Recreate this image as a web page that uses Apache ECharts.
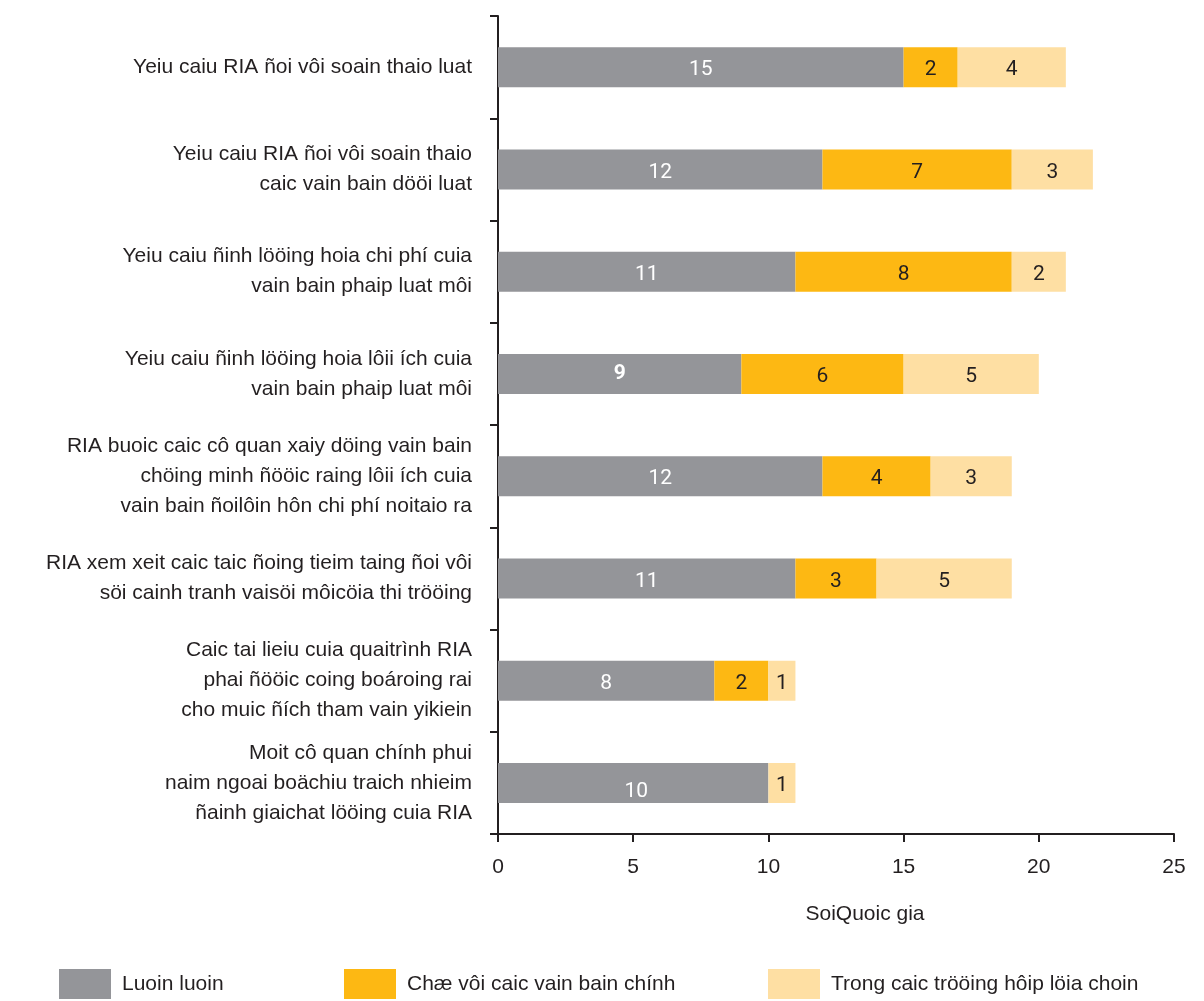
<!DOCTYPE html>
<html>
<head>
<meta charset="utf-8">
<script src="https://cdn.jsdelivr.net/npm/echarts@6/dist/echarts.min.js"></script>
<style>
html,body{margin:0;padding:0;background:#fff;}
#chart{width:1204px;height:1001px;}
</style>
</head>
<body>
<div id="chart"></div>
<script>
const categories = [
  "Yeiu caiu RIA ñoi vôi soain thaio luat",
  "Yeiu caiu RIA ñoi vôi soain thaio\ncaic vain bain dööi luat",
  "Yeiu caiu ñinh lööing hoia chi phí cuia\nvain bain phaip luat môi",
  "Yeiu caiu ñinh lööing hoia lôii ích cuia\nvain bain phaip luat môi",
  "RIA buoic caic cô quan xaiy döing vain bain\nchöing minh ñööic raing lôii ích cuia\nvain bain ñoilôin hôn chi phí noitaio ra",
  "RIA xem xeit caic taic ñoing tieim taing ñoi vôi\nsöi cainh tranh vaisöi môicöia thi trööing",
  "Caic tai lieiu cuia quaitrình RIA\nphai ñööic coing boároing rai\ncho muic ñích tham vain yikiein",
  "Moit cô quan chính phui\nnaim ngoai boächiu traich nhieim\nñainh giaichat lööing cuia RIA"
];
const seriesNames = ["Luoin luoin", "Chæ vôi caic vain bain chính", "Trong caic trööing hôip löia choin"];
const always = [15, 12, 11, 9, 12, 11, 8, 10];
const mainOnly = [2, 7, 8, 6, 4, 3, 2, null];
const caseByCase = [4, 3, 2, 5, 3, 5, 1, 1];
const xTicks = [0, 5, 10, 15, 20, 25];
const axisTitle = "SoiQuoic gia";

const colors = ["#949599", "#fdb813", "#fedfa3"];
const narrow = "'Liberation Sans Narrow', 'Arial Narrow', 'Liberation Sans', Arial, sans-serif";

const chart = echarts.init(document.getElementById('chart'), null, {renderer: 'canvas'});

function mk(name, vals, idx, labelColor) {
  return {
    name: name,
    type: 'bar',
    stack: 'total',
    barWidth: 40,
    itemStyle: {color: colors[idx]},
    label: {
      show: true,
      position: 'inside',
      color: labelColor,
      fontFamily: 'Roboto, sans-serif',
      fontSize: 21,
      fontWeight: 'normal',
      offset: [0, 3]
    },
    data: vals.map((v, i) => {
      if (v == null) return null;
      if (idx === 0 && v === 9) {
        return {value: v, label: {fontWeight: 'bold', offset: [0, 0]}};
      }
      if (idx === 0 && v === 10 && i === 7) {
        return {value: v, label: {offset: [3, 9]}};
      }
      return v;
    })
  };
}

const legends = seriesNames.map((n, i) => ({
  data: [n],
  left: [59, 344, 768][i],
  top: 969,
  padding: 0,
  itemWidth: 52,
  itemHeight: 30,
  icon: 'rect',
  selectedMode: false,
  textStyle: {fontFamily: narrow, fontSize: 21, color: '#231f20', padding: [4, 0, 0, 6]}
}));

chart.setOption({
  backgroundColor: '#ffffff',
  animation: false,
  color: colors,
  legend: legends,
  grid: {left: 498, right: 30, top: 16, height: 818, containLabel: false},
  xAxis: {
    type: 'value',
    min: xTicks[0],
    max: xTicks[xTicks.length - 1],
    interval: 5,
    name: axisTitle,
    nameLocation: 'middle',
    nameGap: 70,
    nameTextStyle: {fontFamily: narrow, fontSize: 21, color: '#231f20', padding: [0, 0, 0, 58]},
    axisLine: {show: true, lineStyle: {color: '#231f20', width: 2}},
    axisTick: {show: true, length: 8, lineStyle: {color: '#231f20', width: 2}},
    axisLabel: {fontFamily: narrow, fontSize: 21, color: '#231f20', margin: 23},
    splitLine: {show: false}
  },
  yAxis: {
    type: 'category',
    inverse: true,
    data: categories,
    axisLine: {show: true, lineStyle: {color: '#231f20', width: 2}},
    axisTick: {show: true, length: 8, lineStyle: {color: '#231f20', width: 2}},
    axisLabel: {
      fontFamily: "'Liberation Sans', Arial, sans-serif",
      fontSize: 21,
      color: '#231f20',
      margin: 26,
      lineHeight: 30,
      align: 'right'
    }
  },
  series: [
    mk(seriesNames[0], always, 0, '#ffffff'),
    mk(seriesNames[1], mainOnly, 1, '#231f20'),
    mk(seriesNames[2], caseByCase, 2, '#231f20')
  ]
});
</script>
</body>
</html>
